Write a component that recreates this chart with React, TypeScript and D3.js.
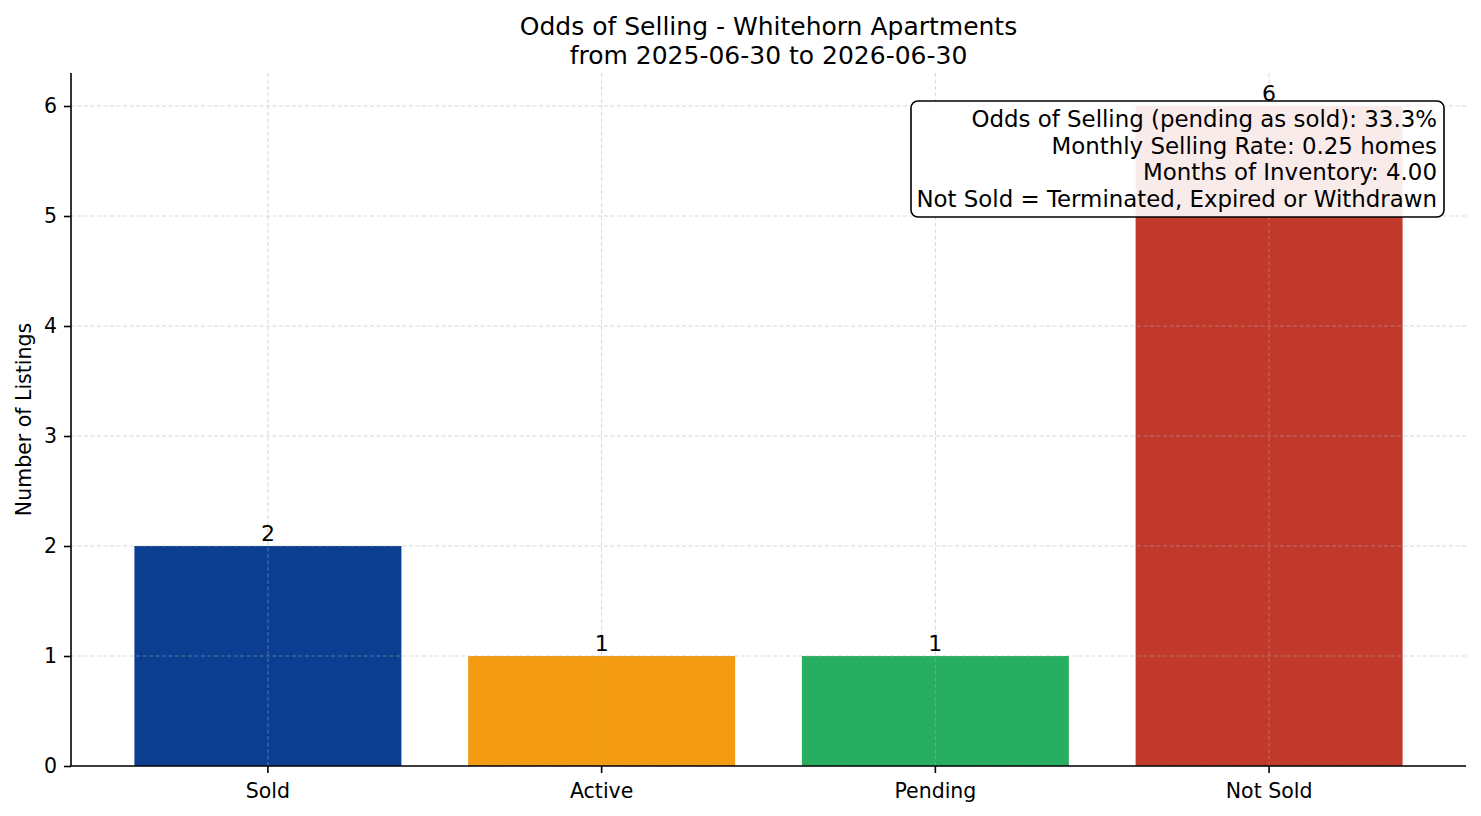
import React, { useEffect, useRef } from 'react';
import * as d3 from 'd3';

// listing outcomes over the period
const categories = ['Sold', 'Active', 'Pending', 'Not Sold'];
const counts = [2, 1, 1, 6];
const barColors = ['#0b3d91', '#f39c12', '#27ae60', '#c0392b'];
const yTicks = [0, 1, 2, 3, 4, 5, 6];

const titleLines = ['Odds of Selling - Whitehorn Apartments', 'from 2025-06-30 to 2026-06-30'];
const statLines = [
  'Odds of Selling (pending as sold): 33.3%',
  'Monthly Selling Rate: 0.25 homes',
  'Months of Inventory: 4.00',
  'Not Sold = Terminated, Expired or Withdrawn',
];

const App: React.FC = () => {
  const ref = useRef<SVGSVGElement | null>(null);

  useEffect(() => {
    const width = 1481;
    const height = 816;
    const margin = { top: 73, right: 15, bottom: 50, left: 71 };
    const font = 'DejaVu Sans, sans-serif';

    const root = d3.select(ref.current);
    root.selectAll('*').remove();
    root.append('rect').attr('width', width).attr('height', height).attr('fill', '#fff');

    const x = d3.scaleBand<string>()
      .domain(categories)
      .range([margin.left, width - margin.right])
      .paddingInner(0.2)
      .paddingOuter(0.19);
    const y = d3.scaleLinear()
      .domain([0, 6.3])
      .range([height - margin.bottom, margin.top]);

    const cx = (c: string) => (x(c) || 0) + x.bandwidth() / 2;

    // bars
    root.append('g')
      .selectAll('rect')
      .data(categories)
      .join('rect')
      .attr('x', d => x(d) || 0)
      .attr('y', (d, i) => y(counts[i]))
      .attr('width', x.bandwidth())
      .attr('height', (d, i) => y(0) - y(counts[i]))
      .attr('fill', (d, i) => barColors[i]);

    // dashed grid drawn over the bars
    const grid = root.append('g')
      .attr('stroke', '#b0b0b0')
      .attr('stroke-opacity', 0.5)
      .attr('stroke-width', 1)
      .attr('stroke-dasharray', '4,2.5');
    grid.selectAll('.hg')
      .data(yTicks)
      .join('line')
      .attr('x1', margin.left)
      .attr('x2', width - margin.right)
      .attr('y1', d => y(d))
      .attr('y2', d => y(d));
    grid.selectAll('.vg')
      .data(categories)
      .join('line')
      .attr('x1', d => cx(d))
      .attr('x2', d => cx(d))
      .attr('y1', y(0))
      .attr('y2', margin.top);

    // value labels
    root.append('g')
      .selectAll('text')
      .data(categories)
      .join('text')
      .attr('x', d => cx(d))
      .attr('y', (d, i) => y(counts[i]) - 5)
      .attr('text-anchor', 'middle')
      .attr('font-family', font)
      .attr('font-size', 22)
      .attr('fill', '#000')
      .text((d, i) => String(counts[i]));

    // axes
    const xAxis = d3.axisBottom(x).tickSize(7).tickPadding(10);
    const gx = root.append('g')
      .attr('transform', `translate(0,${y(0)})`)
      .call(xAxis);
    const yAxis = d3.axisLeft(y).tickValues(yTicks).tickFormat(d3.format('d')).tickSize(7).tickPadding(7);
    const gy = root.append('g')
      .attr('transform', `translate(${margin.left},0)`)
      .call(yAxis);

    gx.select('.domain').attr('d', `M${margin.left},0H${width - margin.right}`);
    gy.select('.domain').attr('d', `M0,${y(0)}V${margin.top}`);
    [gx, gy].forEach(g => {
      g.select('.domain').attr('stroke', '#000').attr('stroke-width', 1.6);
      g.selectAll('.tick line').attr('stroke', '#000').attr('stroke-width', 1.6);
      g.selectAll('.tick text')
        .attr('font-family', font)
        .attr('font-size', 20.5)
        .attr('fill', '#000');
    });

    // axis title
    root.append('text')
      .attr('transform', `translate(31,${(y(0) + margin.top) / 2}) rotate(-90)`)
      .attr('text-anchor', 'middle')
      .attr('font-family', font)
      .attr('font-size', 20.5)
      .text('Number of Listings');

    // chart title
    root.append('g')
      .selectAll('text')
      .data(titleLines)
      .join('text')
      .attr('x', (margin.left + width - margin.right) / 2)
      .attr('y', (d, i) => 35 + i * 28.5)
      .attr('text-anchor', 'middle')
      .attr('font-family', font)
      .attr('font-size', 25)
      .text(d => d);

    // stats box in the upper right
    const box = root.append('g');
    box.append('rect')
      .attr('x', 911)
      .attr('y', 101)
      .attr('width', 533)
      .attr('height', 116)
      .attr('rx', 7)
      .attr('fill', '#fff')
      .attr('fill-opacity', 0.9)
      .attr('stroke', '#000')
      .attr('stroke-width', 1.6);
    box.selectAll('text')
      .data(statLines)
      .join('text')
      .attr('x', 1437)
      .attr('y', (d, i) => 127 + i * 26.7)
      .attr('text-anchor', 'end')
      .attr('font-family', font)
      .attr('font-size', 22.9)
      .text(d => d);
  }, []);

  return (
    <svg ref={ref} width={1481} height={816} style={{ position: 'absolute', left: 0, top: 0 }} />
  );
};

export default App;
